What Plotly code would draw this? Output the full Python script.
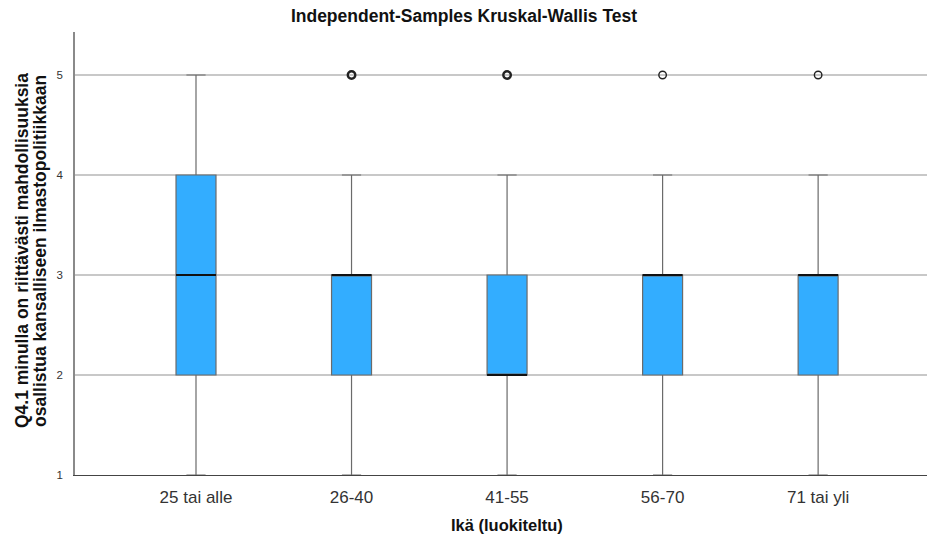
import plotly.graph_objects as go

# Age groups and box-plot statistics of Q4.1 (scale 1-5)
groups = ["25 tai alle", "26-40", "41-55", "56-70", "71 tai yli"]
lower_whisker = [1, 1, 1, 1, 1]
q1 = [2, 2, 2, 2, 2]
median = [3, 3, 2, 3, 3]
q3 = [4, 3, 3, 3, 3]
upper_whisker = [5, 4, 4, 4, 4]
outlier_value = [None, 5, 5, 5, 5]
outlier_count = [0, 3, 3, 1, 1]

y_ticks = [1, 2, 3, 4, 5]

y_title_lines = ["Q4.1 minulla on riittävästi mahdollisuuksia",
                 "osallistua kansalliseen ilmastopolitiikkaan"]

FONT = "Liberation Sans, Arial, sans-serif"
BOX_FILL = "#33adff"
BOX_LINE = "#6b6b6b"
BOX_W = 0.257

positions = list(range(len(groups)))

fig = go.Figure()

fig.add_trace(go.Box(
    x=positions,
    q1=q1,
    median=median,
    q3=q3,
    lowerfence=lower_whisker,
    upperfence=upper_whisker,
    width=BOX_W,
    whiskerwidth=0.48,
    fillcolor=BOX_FILL,
    line=dict(color=BOX_LINE, width=1.2),
    boxpoints=False,
    showlegend=False,
    hoverinfo="skip",
))

# Black median bars on top of each box
for p, m in zip(positions, median):
    fig.add_trace(go.Scatter(
        x=[p - BOX_W / 2, p + BOX_W / 2],
        y=[m, m],
        mode="lines",
        line=dict(color="#111111", width=2.2),
        showlegend=False,
        hoverinfo="skip",
    ))

# Outliers (open circles); overlapping cases appear heavier
for p, v, n in zip(positions, outlier_value, outlier_count):
    if v is None or n == 0:
        continue
    fig.add_trace(go.Scatter(
        x=[p],
        y=[v],
        mode="markers",
        marker=dict(symbol="circle-open", size=7.5,
                    color="#222222",
                    line=dict(width=2.4 if n > 1 else 1.4, color="#222222")),
        showlegend=False,
        hoverinfo="skip",
    ))

fig.update_layout(
    width=928,
    height=540,
    margin=dict(l=75, r=1, t=32, b=65),
    paper_bgcolor="white",
    plot_bgcolor="white",
    font=dict(family=FONT, color="#222222"),
    title=dict(
        text="<b>Independent-Samples Kruskal-Wallis Test</b>",
        x=0.5, xref="container", xanchor="center",
        y=1 - 16 / 540, yref="container", yanchor="middle",
        font=dict(size=17.5, family=FONT, color="#111111"),
    ),
    hovermode=False,
)

fig.update_xaxes(
    range=[-0.778, 4.70],
    tickmode="array",
    tickvals=positions,
    ticktext=groups,
    tickfont=dict(size=17, family=FONT, color="#333333"),
    ticks="",
    ticklabelstandoff=6,
    showgrid=False,
    zeroline=False,
    showline=True,
    linecolor="#444444",
    linewidth=1.3,
)

fig.update_yaxes(
    range=[1, 5.43],
    tickmode="array",
    tickvals=y_ticks,
    ticktext=[str(t) for t in y_ticks],
    tickfont=dict(size=11.5, family=FONT, color="#333333"),
    ticks="",
    ticklabelstandoff=8,
    showgrid=True,
    gridcolor="#c8c8c8",
    gridwidth=1.5,
    zeroline=False,
    showline=True,
    linecolor="#8a8a8a",
    linewidth=1.5,
)

# Axis titles (y title as two rotated lines)
for line_text, x_px in zip(y_title_lines, [22, 40]):
    fig.add_annotation(
        text="<b>" + line_text + "</b>",
        xref="paper", yref="paper",
        x=-(75 - x_px) / 852, y=(475 - 251) / 443,
        xanchor="center", yanchor="middle",
        textangle=-90,
        showarrow=False,
        font=dict(size=17.5, family=FONT, color="#111111"),
    )
fig.add_annotation(
    text="<b>Ikä (luokiteltu)</b>",
    xref="paper", yref="paper",
    x=(507 - 75) / 852, y=-(525 - 475) / 443,
    xanchor="center", yanchor="middle",
    showarrow=False,
    font=dict(size=16.5, family=FONT, color="#111111"),
)

fig.write_html("out.html")
